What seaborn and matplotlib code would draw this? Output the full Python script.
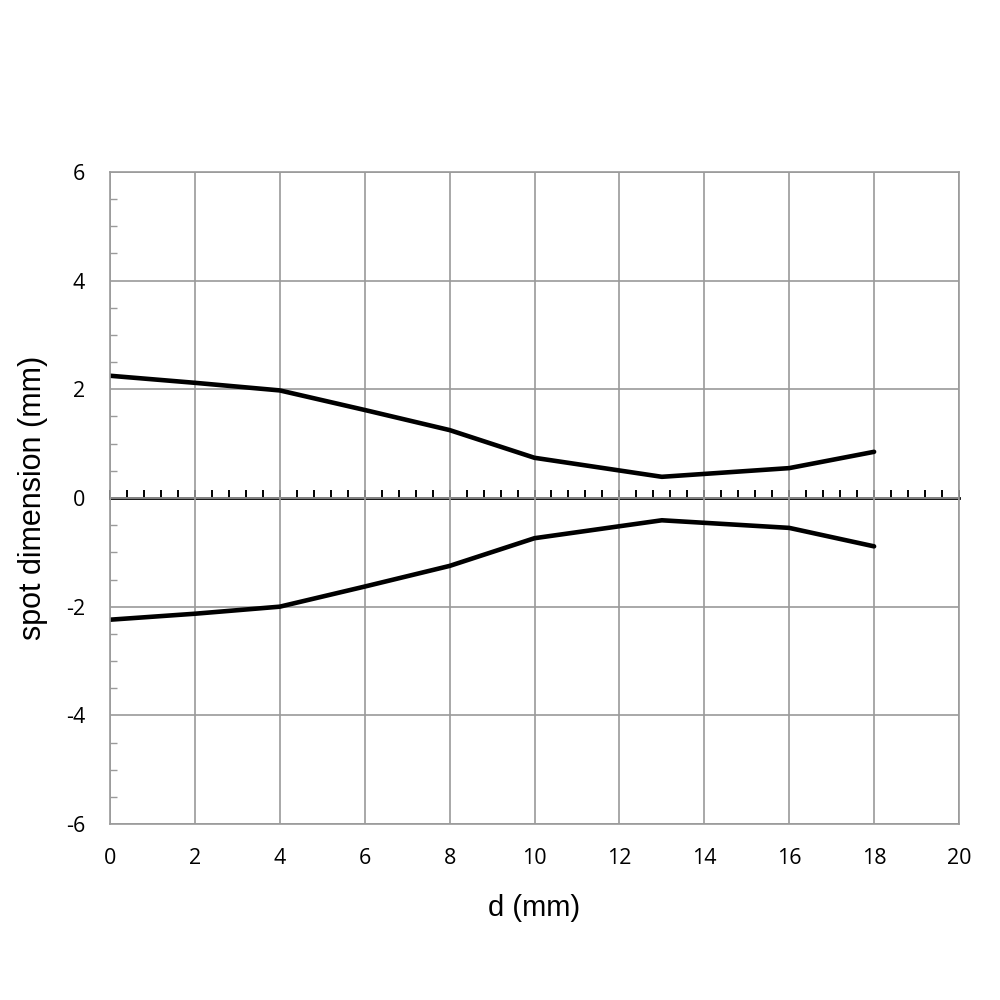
import matplotlib
matplotlib.use("Agg")
import matplotlib.pyplot as plt
from matplotlib.ticker import MultipleLocator, NullFormatter
import pandas as pd
import seaborn as sns

# values
d_mm = [0, 2, 4, 6, 8, 10, 13, 16, 18]
upper = [2.25, 2.12, 1.98, 1.62, 1.25, 0.74, 0.39, 0.55, 0.85]
lower = [-2.24, -2.13, -2.0, -1.63, -1.25, -0.74, -0.41, -0.55, -0.89]
x_ticks = list(range(0, 21, 2))
y_ticks = list(range(-6, 7, 2))

df = pd.DataFrame({"d": d_mm + d_mm,
                   "spot": upper + lower,
                   "edge": ["upper"] * len(d_mm) + ["lower"] * len(d_mm)})

sns.set_style("white")
plt.rcParams['font.family'] = ['Liberation Sans', 'DejaVu Sans']
plt.rcParams['axes.unicode_minus'] = False

fig = plt.figure(figsize=(10, 10), dpi=100)
ax = fig.add_axes([0.11, 0.176, 0.849, 0.652])

sns.lineplot(data=df, x="d", y="spot", units="edge", estimator=None,
             color="black", linewidth=3.3, ax=ax, sort=False)

grid_col = "#9a9a9a"
ax.set_xlim(0, 20)
ax.set_ylim(-6, 6)
ax.set_xticks(x_ticks)
ax.set_yticks(y_ticks)
ax.grid(True, color=grid_col, linewidth=1.2)
ax.set_axisbelow(True)
for s in ax.spines.values():
    s.set_color(grid_col)
    s.set_linewidth(1.2)

# minor ticks on the left side
ax.yaxis.set_minor_locator(MultipleLocator(0.5))
ax.tick_params(axis="y", which="minor", direction="in", length=5,
               width=1, color=grid_col, left=True)
ax.tick_params(axis="x", which="major", length=0, pad=17)
ax.tick_params(axis="y", which="major", length=0, pad=18)

tick_font = ['Open Sans', 'Liberation Sans', 'DejaVu Sans']
for lab in ax.get_xticklabels() + ax.get_yticklabels():
    lab.set_family(tick_font)
    lab.set_fontsize(15.5)
    lab.set_color("black")

# the zero axis with its small ticks
zero_ax = ax.secondary_xaxis(0.5)
for s in zero_ax.spines.values():
    s.set_color("black")
    s.set_linewidth(2)
zero_ax.xaxis.set_major_locator(MultipleLocator(0.4))
zero_ax.xaxis.set_major_formatter(NullFormatter())
zero_ax.tick_params(direction="out", length=5.5, width=1.4, color="black")

ax.set_xlabel("d (mm)", fontsize=21, labelpad=18, color="black")
ax.set_ylabel("spot dimension (mm)", fontsize=22, labelpad=13, color="black")

fig.savefig("out.png", dpi=100)
